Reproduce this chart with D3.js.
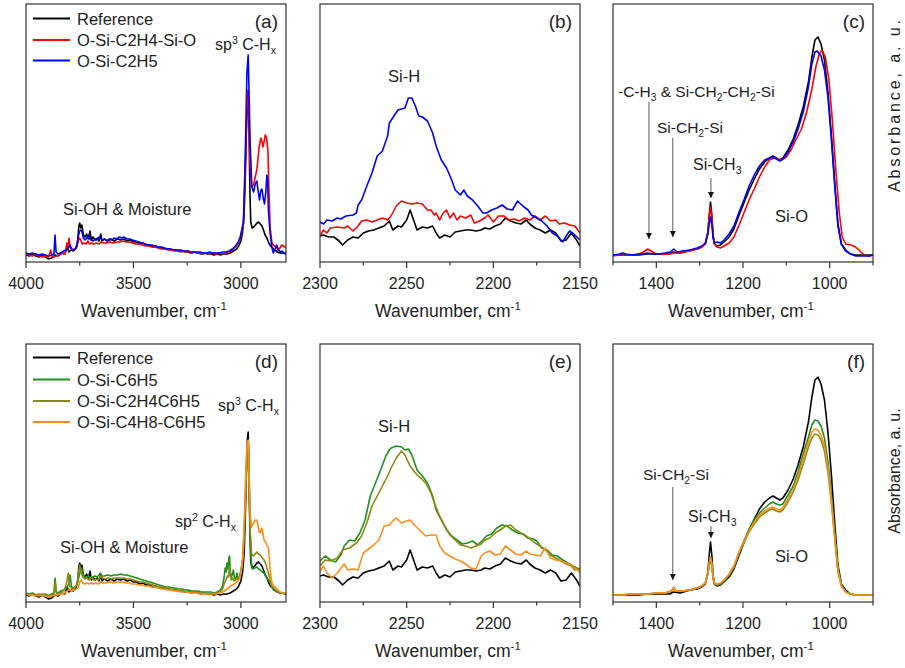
<!DOCTYPE html>
<html>
<head>
<meta charset="utf-8">
<script src="https://cdn.jsdelivr.net/npm/d3@7"></script>
<style>
  body { margin: 0; background: #fff; }
  svg { font-family: Arial, "Liberation Sans", sans-serif; }
</style>
</head>
<body>
<svg id="chart" width="905" height="668"></svg>
<script>
// ---- data: [wavenumber cm-1, absorbance a.u.] ----
var refCH = [[4000,7],[3985,6],[3970,8],[3955,6],[3940,5],[3925,7],[3910,5],[3895,3],[3880,4],[3865,7],[3850,6],[3835,9],[3820,8],[3808,15],[3800,10],[3790,12],[3780,11],[3768,14],[3760,20],[3754,36],[3750,39],[3745,34],[3740,37],[3733,27],[3725,25],[3718,28],[3710,23],[3702,31],[3696,22],[3688,25],[3678,22],[3668,24],[3660,21],[3652,28],[3646,21],[3635,23],[3620,21],[3605,23],[3590,21],[3575,23],[3560,22],[3545,23],[3530,21],[3515,22],[3500,20],[3485,20],[3470,18],[3455,19],[3440,17],[3425,17],[3410,15],[3395,16],[3380,14],[3365,14],[3350,13],[3335,13],[3320,12],[3305,12],[3290,11],[3275,11],[3260,10],[3245,11],[3230,9],[3215,10],[3200,9],[3185,8],[3170,9],[3155,8],[3140,8],[3125,7],[3110,8],[3095,7],[3080,8],[3065,8],[3050,9],[3035,11],[3020,13],[3010,16],[3000,21],[2992,30],[2985,48],[2980,80],[2975,125],[2970,162],[2966,170],[2962,130],[2958,70],[2954,40],[2948,34],[2940,35],[2932,37],[2925,39],[2918,40],[2910,38],[2902,36],[2895,32],[2887,27],[2879,24],[2870,19],[2862,16],[2852,14],[2842,12],[2830,10],[2818,9],[2805,9],[2790,8]];
var c2h4CH = [[4000,8],[3985,7],[3970,6],[3955,8],[3940,6],[3925,5],[3910,6],[3895,5],[3885,12],[3880,6],[3870,5],[3860,6],[3845,7],[3830,9],[3818,8],[3810,19],[3805,12],[3800,24],[3795,15],[3785,12],[3775,13],[3765,15],[3758,20],[3752,24],[3745,22],[3738,18],[3730,19],[3720,18],[3712,21],[3705,18],[3695,19],[3685,18],[3672,19],[3660,18],[3650,20],[3640,19],[3625,19],[3610,20],[3595,19],[3580,20],[3565,20],[3550,21],[3535,20],[3520,20],[3505,19],[3490,18],[3475,18],[3460,17],[3445,16],[3430,16],[3415,15],[3400,15],[3385,14],[3370,13],[3355,13],[3340,12],[3325,12],[3310,11],[3295,11],[3280,10],[3265,11],[3250,10],[3235,9],[3220,10],[3205,9],[3190,9],[3175,8],[3160,9],[3145,8],[3130,9],[3115,8],[3100,9],[3085,8],[3070,9],[3055,10],[3040,12],[3025,15],[3012,19],[3003,24],[2996,30],[2988,40],[2980,90],[2972,155],[2967,172],[2962,140],[2957,95],[2950,75],[2941,77],[2933,85],[2926,92],[2920,104],[2915,115],[2907,124],[2902,121],[2898,115],[2892,120],[2887,127],[2882,125],[2879,122],[2874,110],[2870,75],[2864,35],[2856,20],[2849,17],[2836,15],[2826,12],[2818,14],[2810,17],[2802,16],[2795,15],[2790,14]];
var c2h5CH = [[4000,9],[3985,8],[3970,9],[3955,8],[3940,7],[3925,8],[3910,7],[3895,6],[3880,7],[3870,8],[3865,27],[3860,10],[3850,8],[3838,9],[3825,11],[3812,12],[3800,15],[3795,17],[3788,13],[3775,12],[3765,14],[3757,25],[3752,30],[3745,32],[3740,31],[3733,24],[3725,22],[3717,24],[3710,27],[3703,23],[3695,22],[3687,21],[3678,23],[3670,22],[3660,25],[3655,24],[3645,22],[3635,23],[3624,21],[3612,23],[3600,22],[3590,24],[3578,23],[3565,25],[3555,24],[3545,25],[3531,23],[3518,23],[3505,22],[3490,21],[3475,20],[3460,19],[3445,18],[3430,17],[3415,17],[3400,16],[3385,15],[3370,15],[3355,14],[3340,13],[3325,13],[3310,12],[3295,12],[3280,12],[3265,11],[3250,11],[3235,10],[3220,10],[3205,10],[3190,10],[3175,9],[3160,9],[3145,10],[3130,9],[3115,9],[3100,9],[3085,10],[3070,10],[3055,11],[3040,13],[3025,16],[3012,20],[3003,25],[2996,32],[2988,39],[2980,102],[2972,189],[2966,207],[2961,160],[2957,119],[2949,75],[2941,70],[2933,78],[2926,81],[2919,70],[2913,62],[2907,72],[2902,73],[2896,64],[2890,58],[2884,70],[2879,87],[2875,80],[2872,52],[2864,29],[2856,15],[2849,9],[2841,13],[2833,17],[2825,12],[2817,10],[2808,11],[2802,9],[2790,9]];

var refSiH = [[2300,26],[2298,27],[2295,25],[2292,25],[2289,21],[2287,17],[2284,22],[2281,25],[2278,24],[2275,29],[2272,31],[2269,32],[2266,34],[2263,36],[2260,41],[2258,32],[2255,36],[2253,35],[2250,42],[2248,52],[2246,42],[2244,32],[2241,35],[2238,34],[2235,36],[2233,29],[2231,24],[2228,27],[2225,25],[2222,30],[2219,31],[2216,32],[2213,32],[2210,31],[2207,32],[2205,34],[2202,33],[2199,36],[2196,38],[2193,44],[2190,41],[2187,39],[2184,38],[2181,42],[2179,38],[2176,34],[2173,32],[2170,29],[2167,32],[2164,29],[2161,21],[2158,22],[2155,29],[2152,22],[2150,16]];
var c2h4SiH = [[2300,26],[2298,32],[2296,29],[2294,34],[2290,35],[2286,34],[2284,36],[2281,31],[2278,36],[2276,41],[2273,42],[2270,40],[2267,42],[2264,44],[2261,42],[2259,46],[2256,56],[2253,61],[2250,59],[2247,58],[2244,59],[2241,58],[2238,52],[2236,52],[2234,47],[2233,49],[2231,42],[2229,49],[2227,52],[2225,44],[2223,49],[2221,42],[2219,46],[2216,44],[2213,47],[2211,39],[2208,41],[2205,44],[2203,47],[2200,40],[2197,46],[2194,46],[2191,42],[2188,43],[2185,41],[2182,44],[2179,42],[2176,46],[2173,42],[2170,46],[2167,41],[2164,42],[2162,38],[2159,39],[2156,37],[2153,36],[2150,29]];
var c2h5SiH = [[2300,40],[2298,38],[2296,42],[2293,41],[2290,44],[2288,43],[2285,46],[2281,47],[2279,49],[2278,57],[2276,62],[2273,76],[2270,89],[2267,106],[2264,111],[2261,126],[2260,139],[2257,147],[2255,152],[2251,154],[2249,164],[2247,164],[2245,156],[2243,146],[2241,145],[2238,141],[2235,129],[2233,116],[2230,102],[2227,94],[2224,82],[2222,72],[2219,67],[2217,72],[2215,66],[2212,62],[2209,56],[2206,49],[2204,49],[2201,52],[2198,54],[2195,57],[2192,53],[2189,52],[2186,61],[2183,56],[2180,52],[2178,47],[2175,44],[2172,41],[2169,36],[2166,29],[2163,26],[2160,20],[2158,26],[2156,31],[2153,27],[2150,22]];

var refSiO = [[1500,7],[1480,7],[1460,7],[1440,7],[1420,8],[1400,8],[1380,8],[1369,8],[1361,10],[1345,9],[1322,12],[1306,13],[1295,15],[1287,18],[1281,30],[1278,47],[1275,60],[1272,47],[1269,27],[1266,18],[1260,16],[1252,17],[1244,20],[1232,25],[1221,33],[1209,47],[1197,60],[1186,72],[1174,83],[1162,93],[1150,100],[1139,104],[1131,106],[1123,104],[1115,102],[1108,104],[1096,112],[1084,123],[1073,137],[1061,155],[1049,180],[1041,205],[1034,222],[1027,225],[1020,218],[1012,202],[1004,170],[996,127],[988,77],[981,37],[973,18],[963,12],[952,8],[940,7],[924,7],[908,7],[900,7]];
var c2h4SiO = [[1500,6],[1485,7],[1470,7],[1455,7],[1440,8],[1430,10],[1420,13],[1412,11],[1400,8],[1385,8],[1370,8],[1360,9],[1345,9],[1322,11],[1306,13],[1295,15],[1287,18],[1281,30],[1278,45],[1275,55],[1272,44],[1269,26],[1266,18],[1260,15],[1252,14],[1244,16],[1232,19],[1221,25],[1209,37],[1197,50],[1186,62],[1174,73],[1162,85],[1150,95],[1139,102],[1129,104],[1119,103],[1111,102],[1100,105],[1088,113],[1077,123],[1065,133],[1053,150],[1041,173],[1032,195],[1024,208],[1018,212],[1010,205],[1002,183],[994,143],[986,93],[978,50],[971,25],[963,18],[951,17],[940,15],[928,10],[920,7],[908,6],[900,7]];
var c2h5SiO = [[1500,7],[1485,8],[1478,9],[1470,8],[1455,7],[1440,8],[1430,8],[1420,9],[1410,8],[1395,8],[1380,9],[1368,10],[1360,13],[1352,10],[1340,11],[1322,12],[1306,14],[1295,16],[1287,19],[1281,28],[1278,38],[1275,45],[1272,38],[1269,24],[1266,19],[1260,20],[1252,19],[1244,22],[1232,28],[1221,36],[1209,50],[1197,63],[1186,76],[1174,87],[1162,96],[1150,102],[1139,104],[1131,105],[1123,103],[1115,101],[1108,103],[1096,110],[1084,120],[1073,133],[1061,150],[1049,175],[1041,198],[1034,210],[1029,211],[1020,206],[1012,192],[1004,165],[996,122],[988,75],[981,38],[973,18],[963,11],[952,8],[940,6],[924,6],[908,6],[900,7]];

var c6h5CH = [[4000,9],[3985,8],[3970,9],[3955,7],[3940,8],[3925,7],[3910,8],[3895,6],[3880,8],[3870,9],[3865,24],[3860,10],[3850,9],[3838,11],[3825,12],[3812,14],[3800,18],[3795,27],[3788,15],[3775,14],[3765,16],[3755,24],[3748,30],[3741,34],[3735,28],[3725,25],[3717,24],[3710,26],[3700,24],[3690,25],[3680,26],[3670,25],[3660,27],[3655,29],[3648,26],[3635,26],[3620,27],[3605,26],[3590,27],[3575,27],[3560,28],[3545,27],[3530,27],[3515,26],[3500,25],[3485,24],[3470,23],[3455,22],[3440,21],[3425,20],[3410,19],[3395,18],[3380,17],[3365,16],[3350,15],[3335,15],[3320,14],[3305,14],[3290,13],[3275,13],[3260,12],[3245,12],[3230,11],[3215,11],[3200,11],[3185,10],[3170,10],[3155,10],[3140,10],[3125,9],[3110,10],[3095,12],[3085,16],[3078,25],[3073,34],[3068,30],[3065,39],[3060,33],[3056,44],[3053,46],[3049,30],[3044,25],[3040,27],[3035,32],[3030,24],[3024,23],[3018,29],[3012,22],[3005,26],[2998,34],[2990,45],[2982,85],[2975,130],[2970,152],[2966,155],[2962,120],[2957,70],[2952,40],[2945,33],[2935,34],[2926,35],[2918,33],[2910,32],[2900,30],[2892,29],[2884,26],[2879,24],[2872,22],[2864,19],[2856,15],[2848,12],[2838,11],[2825,10],[2810,9],[2790,8]];
var c2h4c6h5CH = [[4000,8],[3985,7],[3970,8],[3955,7],[3940,6],[3925,8],[3910,7],[3895,5],[3880,7],[3870,8],[3863,20],[3858,9],[3845,8],[3832,10],[3820,13],[3810,20],[3803,29],[3797,16],[3785,13],[3772,15],[3762,18],[3755,30],[3750,37],[3744,30],[3736,25],[3726,23],[3716,24],[3706,22],[3696,25],[3686,22],[3676,23],[3664,22],[3652,26],[3645,24],[3632,23],[3618,24],[3604,23],[3590,24],[3575,24],[3560,24],[3545,24],[3530,23],[3515,23],[3500,22],[3485,21],[3470,20],[3455,20],[3440,19],[3425,18],[3410,17],[3395,16],[3380,15],[3365,15],[3350,14],[3335,13],[3320,13],[3305,12],[3290,12],[3275,11],[3260,11],[3245,10],[3230,10],[3215,10],[3200,9],[3185,9],[3170,9],[3155,9],[3140,9],[3125,9],[3110,9],[3095,10],[3085,13],[3078,18],[3070,22],[3063,26],[3058,25],[3053,35],[3049,26],[3044,22],[3038,24],[3032,21],[3024,22],[3018,24],[3010,23],[3003,27],[2996,34],[2990,45],[2982,82],[2975,125],[2970,146],[2966,150],[2962,118],[2957,72],[2950,48],[2942,46],[2933,48],[2926,50],[2918,48],[2910,47],[2900,44],[2892,42],[2884,38],[2879,34],[2870,28],[2864,22],[2856,16],[2848,14],[2838,12],[2825,10],[2810,9],[2790,8]];
var c4h8c6h5CH = [[4000,8],[3985,7],[3970,7],[3955,6],[3940,7],[3925,6],[3910,6],[3895,5],[3880,6],[3865,7],[3850,7],[3835,8],[3820,9],[3808,11],[3798,13],[3788,11],[3775,12],[3765,13],[3756,15],[3750,20],[3744,22],[3736,19],[3726,18],[3716,19],[3706,18],[3696,19],[3686,18],[3676,19],[3664,18],[3652,20],[3640,19],[3625,19],[3610,20],[3595,19],[3580,20],[3565,20],[3550,20],[3535,19],[3520,19],[3505,18],[3490,18],[3475,17],[3460,17],[3445,16],[3430,16],[3415,15],[3400,15],[3385,14],[3370,13],[3355,13],[3340,12],[3325,12],[3310,11],[3295,11],[3280,10],[3265,10],[3250,10],[3235,9],[3220,9],[3205,9],[3190,8],[3175,8],[3160,8],[3145,8],[3130,8],[3115,8],[3100,9],[3085,10],[3070,12],[3058,14],[3050,16],[3040,17],[3030,18],[3020,20],[3010,22],[3003,26],[2996,34],[2990,48],[2982,95],[2975,145],[2970,160],[2966,162],[2962,135],[2957,90],[2951,75],[2945,77],[2938,80],[2933,82],[2926,82],[2920,76],[2915,70],[2910,69],[2903,74],[2897,68],[2892,62],[2885,60],[2879,57],[2872,54],[2868,45],[2864,32],[2856,20],[2848,16],[2840,15],[2828,12],[2817,10],[2805,9],[2790,9]];

var c6h5SiH = [[2300,41],[2297,46],[2294,42],[2291,40],[2288,47],[2286,56],[2283,62],[2280,61],[2277,69],[2274,82],[2271,106],[2268,119],[2265,132],[2262,146],[2260,152],[2259,154],[2256,156],[2253,155],[2251,152],[2249,153],[2247,147],[2244,132],[2241,126],[2238,119],[2235,106],[2233,92],[2230,82],[2227,72],[2224,66],[2221,62],[2218,58],[2215,59],[2212,61],[2209,57],[2206,62],[2204,66],[2201,68],[2198,74],[2195,77],[2192,76],[2189,72],[2186,69],[2183,68],[2180,64],[2177,63],[2175,61],[2172,54],[2169,52],[2166,47],[2163,46],[2160,42],[2157,39],[2154,36],[2150,32]];
var c2h4c6h5SiH = [[2300,36],[2297,42],[2294,41],[2290,44],[2287,52],[2283,54],[2279,59],[2276,66],[2273,79],[2270,96],[2267,106],[2264,116],[2261,126],[2259,134],[2256,144],[2253,151],[2251,147],[2248,136],[2245,129],[2242,124],[2239,119],[2236,109],[2234,99],[2231,86],[2228,76],[2225,67],[2222,62],[2219,57],[2216,56],[2213,54],[2210,56],[2207,58],[2205,62],[2202,64],[2199,69],[2196,72],[2193,76],[2190,77],[2187,72],[2184,69],[2181,66],[2178,62],[2176,59],[2173,56],[2170,52],[2167,47],[2164,44],[2161,41],[2158,38],[2155,36],[2153,32],[2150,34]];
var c4h8c6h5SiH = [[2300,31],[2298,36],[2296,29],[2293,24],[2290,29],[2287,36],[2286,38],[2284,32],[2281,33],[2278,32],[2275,49],[2272,53],[2269,57],[2266,62],[2263,76],[2260,77],[2258,81],[2256,84],[2253,79],[2250,81],[2248,82],[2245,76],[2242,71],[2239,66],[2236,67],[2233,67],[2231,56],[2228,49],[2225,46],[2222,43],[2219,41],[2216,38],[2213,34],[2210,33],[2207,46],[2205,49],[2202,51],[2199,47],[2196,48],[2193,56],[2190,52],[2187,48],[2184,47],[2181,51],[2179,48],[2176,47],[2173,46],[2170,54],[2167,44],[2164,42],[2161,41],[2158,39],[2155,37],[2153,34],[2150,29]];

var c6h5SiO = [[1500,7],[1480,7],[1460,8],[1440,8],[1420,8],[1400,9],[1380,9],[1365,11],[1360,14],[1355,11],[1340,11],[1322,12],[1306,14],[1295,16],[1287,19],[1281,28],[1278,38],[1275,45],[1272,38],[1269,24],[1266,18],[1260,17],[1252,18],[1244,21],[1232,27],[1221,35],[1209,50],[1197,62],[1186,73],[1174,82],[1162,89],[1150,94],[1139,98],[1131,100],[1123,98],[1115,97],[1108,98],[1096,107],[1084,116],[1073,130],[1061,148],[1049,165],[1041,177],[1034,182],[1027,181],[1020,176],[1012,164],[1004,140],[996,107],[988,67],[981,33],[973,17],[963,10],[952,8],[940,7],[924,7],[900,7]];
var c2h4c6h5SiO = [[1500,7],[1480,7],[1460,8],[1440,8],[1420,8],[1400,9],[1380,9],[1365,11],[1360,14],[1355,11],[1340,11],[1322,12],[1306,14],[1295,16],[1287,19],[1281,28],[1278,37],[1275,43],[1272,36],[1269,23],[1266,18],[1260,17],[1252,18],[1244,21],[1232,27],[1221,35],[1209,49],[1197,60],[1186,70],[1174,78],[1162,85],[1150,89],[1139,92],[1131,93],[1123,91],[1115,90],[1108,92],[1096,100],[1084,110],[1073,122],[1061,138],[1049,155],[1041,164],[1034,168],[1027,167],[1020,162],[1012,151],[1004,130],[996,99],[988,62],[981,31],[973,16],[963,10],[952,8],[940,7],[924,7],[900,7]];
var c4h8c6h5SiO = [[1500,7],[1480,7],[1460,8],[1440,8],[1420,8],[1400,9],[1380,9],[1365,11],[1360,15],[1355,11],[1340,11],[1322,12],[1306,14],[1295,16],[1287,19],[1281,29],[1278,39],[1275,45],[1272,39],[1269,25],[1266,19],[1260,18],[1252,19],[1244,22],[1232,28],[1221,36],[1209,50],[1197,61],[1186,71],[1174,80],[1162,87],[1150,91],[1139,94],[1131,95],[1123,93],[1115,92],[1108,94],[1096,103],[1084,113],[1073,126],[1061,143],[1049,160],[1041,170],[1034,173],[1027,172],[1020,167],[1012,156],[1004,134],[996,102],[988,64],[981,32],[973,16],[963,10],[952,8],[940,7],[924,7],[900,7]];

var legendTop = ["Reference", "O-Si-C2H4-Si-O", "O-Si-C2H5"];
var legendBottom = ["Reference", "O-Si-C6H5", "O-Si-C2H4C6H5", "O-Si-C4H8-C6H5"];
var colorsTop = ["#000000", "#ff0000", "#0000ff"];
var colorsBottom = ["#000000", "#1e901e", "#8a8a10", "#ff8c1a"];

var ticksCH = { major: [4000, 3500, 3000], minor: [3750, 3250] };
var ticksSiH = { major: [2300, 2250, 2200, 2150], minor: [2275, 2225, 2175] };
var ticksSiO = { major: [1400, 1200, 1000], minor: [1500, 1300, 1100, 900] };

// ---- layout ----
var pw = 260, ph = 258;
var svg = d3.select("#chart");
var frameColor = "#333";

var panels = [
  { tag: "(a)", left: 26,  top: 4,   domain: [4000, 2790], ticks: ticksCH,  series: [refCH, c2h4CH, c2h5CH], colors: colorsTop },
  { tag: "(b)", left: 320, top: 4,   domain: [2300, 2150], ticks: ticksSiH, series: [refSiH, c2h4SiH, c2h5SiH], colors: colorsTop },
  { tag: "(c)", left: 613, top: 4,   domain: [1500, 900],  ticks: ticksSiO, series: [refSiO, c2h4SiO, c2h5SiO], colors: colorsTop },
  { tag: "(d)", left: 26,  top: 344, domain: [4000, 2790], ticks: ticksCH,  series: [refCH, c6h5CH, c2h4c6h5CH, c4h8c6h5CH], colors: colorsBottom },
  { tag: "(e)", left: 320, top: 344, domain: [2300, 2150], ticks: ticksSiH, series: [refSiH, c6h5SiH, c2h4c6h5SiH, c4h8c6h5SiH], colors: colorsBottom },
  { tag: "(f)", left: 613, top: 344, domain: [1500, 900],  ticks: ticksSiO, series: [refSiO, c6h5SiO, c2h4c6h5SiO, c4h8c6h5SiO], colors: colorsBottom }
];

// arrow head
svg.append("defs").append("marker")
    .attr("id", "head")
    .attr("viewBox", "0 0 10 10")
    .attr("refX", 10).attr("refY", 5)
    .attr("markerWidth", 6).attr("markerHeight", 7)
    .attr("markerUnits", "userSpaceOnUse")
    .attr("orient", "auto")
  .append("path")
    .attr("d", "M0,0 L10,5 L0,10 z")
    .attr("fill", "#111");

// text with sub/superscripts
function rich(g, x, y, parts, size, anchor) {
  var t = g.append("text")
      .attr("x", x).attr("y", y)
      .attr("text-anchor", anchor || "start")
      .style("font-size", size + "px")
      .style("fill", "#222");
  var shift = 0;
  parts.forEach(function(p) {
    var s = (typeof p === "string") ? { t: p } : p;
    var target = s.sup ? -0.4 * size : (s.sub ? 0.28 * size : 0);
    var ts = t.append("tspan").text(s.sup || s.sub || s.t).attr("dy", target - shift);
    if (s.sup || s.sub) ts.style("font-size", (size * 0.66) + "px");
    shift = target;
  });
  return t;
}

panels.forEach(function(p, pi) {
  var x = d3.scaleLinear().domain(p.domain).range([0, pw]);
  var y = d3.scaleLinear().domain([0, ph]).range([ph, 0]);
  p.x = x; p.y = y;

  var g = svg.append("g").attr("transform", "translate(" + p.left + "," + p.top + ")");
  p.g = g;

  g.append("clipPath").attr("id", "clip" + pi)
    .append("rect").attr("width", pw).attr("height", ph);

  var line = d3.line()
      .x(function(d) { return x(d[0]); })
      .y(function(d) { return y(d[1]); });

  g.append("g").attr("clip-path", "url(#clip" + pi + ")")
    .selectAll("path")
    .data(p.series)
    .enter()
    .append("path")
    .attr("d", line)
    .attr("fill", "none")
    .attr("stroke", function(d, i) { return p.colors[i]; })
    .attr("stroke-width", 1.6)
    .attr("stroke-linejoin", "round");

  // frame
  g.append("rect")
    .attr("width", pw).attr("height", ph)
    .attr("fill", "none")
    .attr("stroke", frameColor)
    .attr("stroke-width", 1.2);

  // x axis (outward ticks)
  var ax = g.append("g").attr("transform", "translate(0," + ph + ")");
  ax.selectAll(".minor")
    .data(p.ticks.minor)
    .enter().append("line")
    .attr("x1", function(d) { return x(d); }).attr("x2", function(d) { return x(d); })
    .attr("y1", 0).attr("y2", 3.5)
    .attr("stroke", frameColor).attr("stroke-width", 1.2);
  ax.selectAll(".major")
    .data(p.ticks.major)
    .enter().append("line")
    .attr("x1", function(d) { return x(d); }).attr("x2", function(d) { return x(d); })
    .attr("y1", 0).attr("y2", 6)
    .attr("stroke", frameColor).attr("stroke-width", 1.2);
  ax.selectAll("text")
    .data(p.ticks.major)
    .enter().append("text")
    .attr("x", function(d) { return x(d); })
    .attr("y", 27)
    .attr("text-anchor", "middle")
    .style("font-size", "16px")
    .style("fill", "#222")
    .text(function(d) { return d; });

  rich(g, pw / 2 - 2, ph + 55, ["Wavenumber, cm", { sup: "-1" }], 17.5, "middle");

  // panel tag
  g.append("text")
    .attr("x", pw - 8).attr("y", 24)
    .attr("text-anchor", "end")
    .style("font-size", "19px")
    .style("fill", "#222")
    .text(p.tag);
});

// legends
function legend(p, names, colors, rows) {
  names.forEach(function(n, i) {
    var ly = rows[i];
    p.g.append("line")
      .attr("x1", 7).attr("x2", 44)
      .attr("y1", ly).attr("y2", ly)
      .attr("stroke", colors[i]).attr("stroke-width", 2);
    p.g.append("text")
      .attr("x", 51).attr("y", ly + 6)
      .style("font-size", "16.5px")
      .style("fill", "#222")
      .text(n);
  });
}
legend(panels[0], legendTop, colorsTop, [14.5, 36, 56.5]);
legend(panels[3], legendBottom, colorsBottom, [13.5, 35.5, 57, 78]);

// arrows defined in data units of their panel
function arrow(p, wn, hFrom, hTo) {
  p.g.append("line")
    .attr("x1", p.x(wn)).attr("x2", p.x(wn))
    .attr("y1", p.y(hFrom)).attr("y2", p.y(hTo))
    .attr("stroke", "#555").attr("stroke-width", 1)
    .attr("marker-end", "url(#head)");
}

// annotations (a)
var pa = panels[0];
rich(pa.g, 189, 46, ["sp", { sup: "3" }, " C-H", { sub: "x" }], 16);
rich(pa.g, 37, 211, ["Si-OH & Moisture"], 16.5);
// (b)
var pb = panels[1];
rich(pb.g, 68, 78, ["Si-H"], 16.5);
// (c)
var pc = panels[2];
rich(pc.g, 5, 93, ["-C-H", { sub: "3" }, " & Si-CH", { sub: "2" }, "-CH", { sub: "2" }, "-Si"], 15.5);
rich(pc.g, 44, 129, ["Si-CH", { sub: "2" }, "-Si"], 15.5);
rich(pc.g, 80, 166, ["Si-CH", { sub: "3" }], 16);
rich(pc.g, 162, 218, ["Si-O"], 16.5);
arrow(pc, 1417, 160, 23);
arrow(pc, 1362, 124, 25);
arrow(pc, 1274, 84, 64);
// (d)
var pd = panels[3];
rich(pd.g, 192, 67, ["sp", { sup: "3" }, " C-H", { sub: "x" }], 16);
rich(pd.g, 149, 183, ["sp", { sup: "2" }, " C-H", { sub: "x" }], 16);
rich(pd.g, 34, 209, ["Si-OH & Moisture"], 16.5);
// (e)
var pe = panels[4];
rich(pe.g, 58, 88, ["Si-H"], 16.5);
// (f)
var pf = panels[5];
rich(pf.g, 30, 136, ["Si-CH", { sub: "2" }, "-Si"], 15.5);
rich(pf.g, 75, 178, ["Si-CH", { sub: "3" }], 16);
rich(pf.g, 162, 218, ["Si-O"], 16.5);
arrow(pf, 1362, 115, 22);
arrow(pf, 1274, 76, 64);

// right-hand y titles (the upper one is spread wider in the original)
svg.append("text")
  .attr("transform", "translate(900,106) rotate(-90)")
  .attr("text-anchor", "middle")
  .attr("textLength", 172)
  .attr("lengthAdjust", "spacing")
  .style("font-size", "16px")
  .style("fill", "#222")
  .text("Absorbance, a. u.");
svg.append("text")
  .attr("transform", "translate(900,471) rotate(-90)")
  .attr("text-anchor", "middle")
  .style("font-size", "16px")
  .style("fill", "#222")
  .text("Absorbance, a. u.");
</script>
</body>
</html>
